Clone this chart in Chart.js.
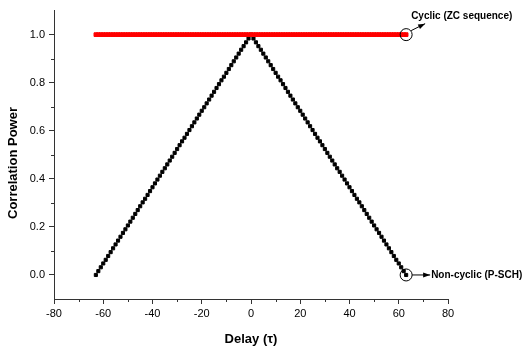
<!DOCTYPE html>
<html>
<head>
<meta charset="utf-8">
<script src="https://cdn.jsdelivr.net/npm/chart.js@4/dist/chart.umd.min.js"></script>
<style>
  html, body { margin: 0; padding: 0; background: #fff; }
  #wrap { width: 528px; height: 349px; }
</style>
</head>
<body>
<div id="wrap"><canvas id="myChart"></canvas></div>
<script>
// delay values (tau)
const delays = [
  -63,-62,-61,-60,-59,-58,-57,-56,-55,-54,-53,-52,-51,-50,-49,-48,
  -47,-46,-45,-44,-43,-42,-41,-40,-39,-38,-37,-36,-35,-34,-33,-32,
  -31,-30,-29,-28,-27,-26,-25,-24,-23,-22,-21,-20,-19,-18,-17,-16,
  -15,-14,-13,-12,-11,-10,-9,-8,-7,-6,-5,-4,-3,-2,-1,0,
  1,2,3,4,5,6,7,8,9,10,11,12,13,14,15,
  16,17,18,19,20,21,22,23,24,25,26,27,28,29,30,31,
  32,33,34,35,36,37,38,39,40,41,42,43,44,45,46,47,
  48,49,50,51,52,53,54,55,56,57,58,59,60,61,62,63
];

// cyclic correlation (ZC sequence) - flat at 1
const cyclic = [
  1,1,1,1,1,1,1,1,1,1,1,1,1,1,1,1,
  1,1,1,1,1,1,1,1,1,1,1,1,1,1,1,1,
  1,1,1,1,1,1,1,1,1,1,1,1,1,1,1,1,
  1,1,1,1,1,1,1,1,1,1,1,1,1,1,1,1,
  1,1,1,1,1,1,1,1,1,1,1,1,1,1,1,
  1,1,1,1,1,1,1,1,1,1,1,1,1,1,1,1,
  1,1,1,1,1,1,1,1,1,1,1,1,1,1,1,1,
  1,1,1,1,1,1,1,1,1,1,1,1,1,1,1,1
];

// non-cyclic correlation (P-SCH)
const nonCyclic = [
  0.000,0.016,0.032,0.048,0.063,0.079,0.095,0.111,0.127,0.143,0.159,0.175,0.190,0.206,0.222,0.238,
  0.254,0.270,0.286,0.302,0.317,0.333,0.349,0.365,0.381,0.397,0.413,0.429,0.444,0.460,0.476,0.492,
  0.508,0.524,0.540,0.556,0.571,0.587,0.603,0.619,0.635,0.651,0.667,0.683,0.698,0.714,0.730,0.746,
  0.762,0.778,0.794,0.810,0.825,0.841,0.857,0.873,0.889,0.905,0.921,0.937,0.952,0.968,0.984,1.000,
  0.984,0.968,0.952,0.937,0.921,0.905,0.889,0.873,0.857,0.841,0.825,0.810,0.794,0.778,0.762,
  0.746,0.730,0.714,0.698,0.683,0.667,0.651,0.635,0.619,0.603,0.587,0.571,0.556,0.540,0.524,0.508,
  0.492,0.476,0.460,0.444,0.429,0.413,0.397,0.381,0.365,0.349,0.333,0.317,0.302,0.286,0.270,0.254,
  0.238,0.222,0.206,0.190,0.175,0.159,0.143,0.127,0.111,0.095,0.079,0.063,0.048,0.032,0.016,0.000
];

const xTicks = [-80, -60, -40, -20, 0, 20, 40, 60, 80];
const yTicks = [0, 0.2, 0.4, 0.6, 0.8, 1.0];
const xMinor = [-70, -50, -30, -10, 10, 30, 50, 70];
const yMinor = [0.1, 0.3, 0.5, 0.7, 0.9];

const FONT = "'Liberation Sans', Arial, sans-serif";
const AXIS = "#333";

function arrow(ctx, x1, y1, x2, y2) {
  ctx.beginPath();
  ctx.moveTo(x1, y1);
  ctx.lineTo(x2, y2);
  ctx.stroke();
  const a = Math.atan2(y2 - y1, x2 - x1);
  ctx.beginPath();
  ctx.moveTo(x2, y2);
  ctx.lineTo(x2 - 7 * Math.cos(a) + 2.5 * Math.sin(a), y2 - 7 * Math.sin(a) - 2.5 * Math.cos(a));
  ctx.lineTo(x2 - 7 * Math.cos(a) - 2.5 * Math.sin(a), y2 - 7 * Math.sin(a) + 2.5 * Math.cos(a));
  ctx.closePath();
  ctx.fill();
}

const extras = {
  id: "extras",
  afterDraw(chart) {
    const ctx = chart.ctx;
    const xs = chart.scales.x, ys = chart.scales.y;
    const area = chart.chartArea;
    ctx.save();
    ctx.strokeStyle = AXIS;
    ctx.lineWidth = 1;
    // minor ticks
    xMinor.forEach(v => {
      const px = Math.round(xs.getPixelForValue(v)) + 0.5;
      ctx.beginPath();
      ctx.moveTo(px, area.bottom);
      ctx.lineTo(px, area.bottom + 3);
      ctx.stroke();
    });
    yMinor.forEach(v => {
      const py = Math.round(ys.getPixelForValue(v)) + 0.5;
      ctx.beginPath();
      ctx.moveTo(area.left, py);
      ctx.lineTo(area.left - 3, py);
      ctx.stroke();
    });

    // axis titles
    ctx.fillStyle = "#000";
    ctx.font = "bold 13px " + FONT;
    ctx.textAlign = "center";
    ctx.textBaseline = "middle";
    ctx.fillText("Delay (\u03C4)", (area.left + area.right) / 2, 339);
    ctx.save();
    ctx.translate(13, 163);
    ctx.rotate(-Math.PI / 2);
    ctx.fillText("Correlation Power", 0, 0);
    ctx.restore();

    // annotations
    ctx.strokeStyle = "#000";
    ctx.fillStyle = "#000";
    const cx = xs.getPixelForValue(63);
    const cTop = ys.getPixelForValue(1);
    const cBot = ys.getPixelForValue(0);
    ctx.beginPath();
    ctx.arc(cx, cTop, 6, 0, Math.PI * 2);
    ctx.stroke();
    ctx.beginPath();
    ctx.arc(cx, cBot, 6, 0, Math.PI * 2);
    ctx.stroke();
    arrow(ctx, cx + 5, cTop - 4, cx + 19, cTop - 11);
    arrow(ctx, cx + 6, cBot, cx + 24, cBot);

    ctx.font = "bold 10px " + FONT;
    ctx.textAlign = "left";
    ctx.fillText("Cyclic (ZC sequence)", cx + 5, cTop - 18);
    ctx.fillText("Non-cyclic (P-SCH)", cx + 25, cBot);
    ctx.restore();
  }
};

const ctx = document.getElementById("myChart");
const myChart = new Chart(ctx, {
  type: "scatter",
  data: {
    datasets: [
      {
        label: "Cyclic (ZC sequence)",
        data: delays.map((d, i) => ({ x: d, y: cyclic[i] })),
        backgroundColor: "#ff0000",
        borderColor: "#ff0000",
        pointStyle: "rect",
        pointRadius: 2.6,
        borderWidth: 1,
        showLine: false,
      },
      {
        label: "Non-cyclic (P-SCH)",
        data: delays.map((d, i) => ({ x: d, y: nonCyclic[i] })),
        backgroundColor: "#000000",
        borderColor: "#000000",
        pointStyle: "rect",
        pointRadius: 2.2,
        borderWidth: 1,
        showLine: false,
      },
    ],
  },
  options: {
    responsive: true,
    maintainAspectRatio: false,
    animation: false,
    layout: { padding: { top: 9, right: 80, left: 0, bottom: 0 } },
    plugins: { legend: { display: false }, tooltip: { enabled: false } },
    scales: {
      x: {
        type: "linear",
        min: -80,
        max: 80,
        afterBuildTicks: (s) => { s.ticks = xTicks.map(v => ({ value: v })); },
        afterFit: (s) => { s.height = 50; },
        grid: { drawOnChartArea: false, tickLength: 5, color: AXIS, tickColor: AXIS },
        border: { display: true, color: AXIS, width: 1 },
        ticks: {
          color: "#000",
          padding: 3,
          font: { family: FONT, size: 11 },
          maxRotation: 0,
          callback: (v) => String(v),
        },
      },
      y: {
        type: "linear",
        min: -0.1,
        max: 1.1,
        afterBuildTicks: (s) => { s.ticks = yTicks.map(v => ({ value: v })); },
        afterFit: (s) => { s.width = 54; },
        grid: { drawOnChartArea: false, tickLength: 5, color: AXIS, tickColor: AXIS },
        border: { display: true, color: AXIS, width: 1 },
        ticks: {
          color: "#000",
          padding: 4,
          font: { family: FONT, size: 11 },
          callback: (v) => Number(v).toFixed(1),
        },
      },
    },
  },
  plugins: [extras],
});
</script>
</body>
</html>
